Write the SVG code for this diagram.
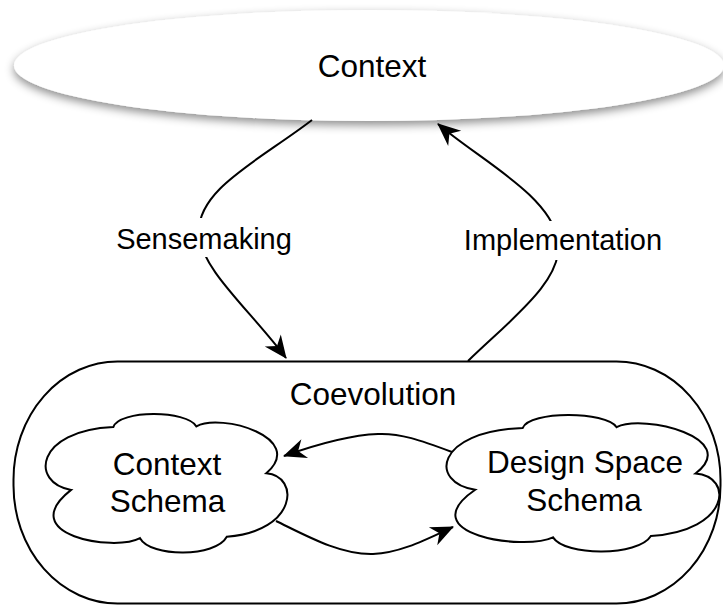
<svg xmlns="http://www.w3.org/2000/svg" width="723" height="606" viewBox="0 0 723 606">
<style>
  .lbl { font-family: "Liberation Sans", Arial, Helvetica, sans-serif; fill: #000; text-anchor: middle; }
  .node { font-size: 31.5px; }
  .edge { font-size: 29px; }
  .outline { fill: #fff; stroke: #000; stroke-width: 2; }
  .conn { fill: none; stroke: #000; stroke-width: 2; marker-end: url(#arrow); }
  .lblbg { fill: #fff; stroke: none; }
</style>
<defs>
  <filter id="shadow" x="-10%" y="-40%" width="120%" height="190%">
    <feDropShadow dx="0" dy="4" stdDeviation="5" flood-color="#000" flood-opacity="0.45"/>
  </filter>
  <marker id="arrow" markerUnits="userSpaceOnUse" orient="auto" viewBox="-24 -12 26 24" refX="0" refY="0" markerWidth="26" markerHeight="24" overflow="visible">
    <path d="M 1 0 L -22 -10 L -15 0 L -22 10 Z" fill="#000"/>
  </marker>
</defs>
<rect x="0" y="0" width="723" height="606" fill="#fff"/>

<g id="node-context">
  <ellipse cx="369" cy="65.5" rx="355" ry="55.5" fill="#fff" filter="url(#shadow)"/>
  <text class="lbl node" x="372" y="76.5">Context</text>
</g>

<g id="node-coevolution">
  <rect class="outline" x="13.5" y="361.5" width="707" height="242" rx="104" ry="118"/>
  <text class="lbl node" x="373" y="405">Coevolution</text>
</g>

<g id="node-context-schema">
  <path class="outline" d="M 71.1 489.9 C 30.1 483.0, 35.0 430.6, 113.3 427.1 C 119.3 409.9, 186.8 409.9, 196.4 426.4 C 220.5 412.6, 307.3 437.5, 266.3 473.3 C 300.1 476.1, 297.6 531.3, 226.8 536.8 C 215.7 557.5, 150.6 557.5, 140.0 538.2 C 114.5 552, 13.3 535.4, 71.1 489.9 Z"/>
  <text class="lbl node" x="167" y="475">Context</text>
  <text class="lbl node" x="167.5" y="511.5">Schema</text>
</g>

<g id="node-design-schema">
  <path class="outline" d="M 475.2 489.8 C 429.0 483.0, 434.4 431.3, 522.8 427.9 C 529.6 410.9, 605.8 410.9, 616.6 427.2 C 643.8 413.6, 741.8 438.1, 695.5 473.5 C 733.6 476.2, 730.9 530.6, 650.9 536.0 C 638.4 556.4, 565.0 556.4, 553.0 537.4 C 524.2 551, 409.9 534.7, 475.2 489.8 Z"/>
  <text class="lbl node" x="585" y="473">Design Space</text>
  <text class="lbl node" x="584" y="511">Schema</text>
</g>

<g id="connectors">
  <path id="edge-sensemaking" class="conn" d="M 312 120 C 260 160, 195 190, 199 235 C 202 270, 250 310, 286 358"/>
  <path id="edge-implementation" class="conn" d="M 468 361 C 510 320, 565 280, 558 240 C 550 195, 480 160, 438 124"/>
  <path id="edge-design-to-context" class="conn" d="M 452 452 C 420 440, 400 433, 378 434 C 350 435, 315 445, 284 456"/>
  <path id="edge-context-to-design" class="conn" d="M 276 521 C 305 535, 340 555, 373 554 C 400 553, 425 540, 453 527"/>
  <rect class="lblbg" x="114" y="218" width="181" height="39"/>
  <text class="lbl edge" x="204" y="248.5">Sensemaking</text>
  <rect class="lblbg" x="460" y="221" width="207" height="39"/>
  <text class="lbl edge" x="563" y="250">Implementation</text>
</g>
</svg>
